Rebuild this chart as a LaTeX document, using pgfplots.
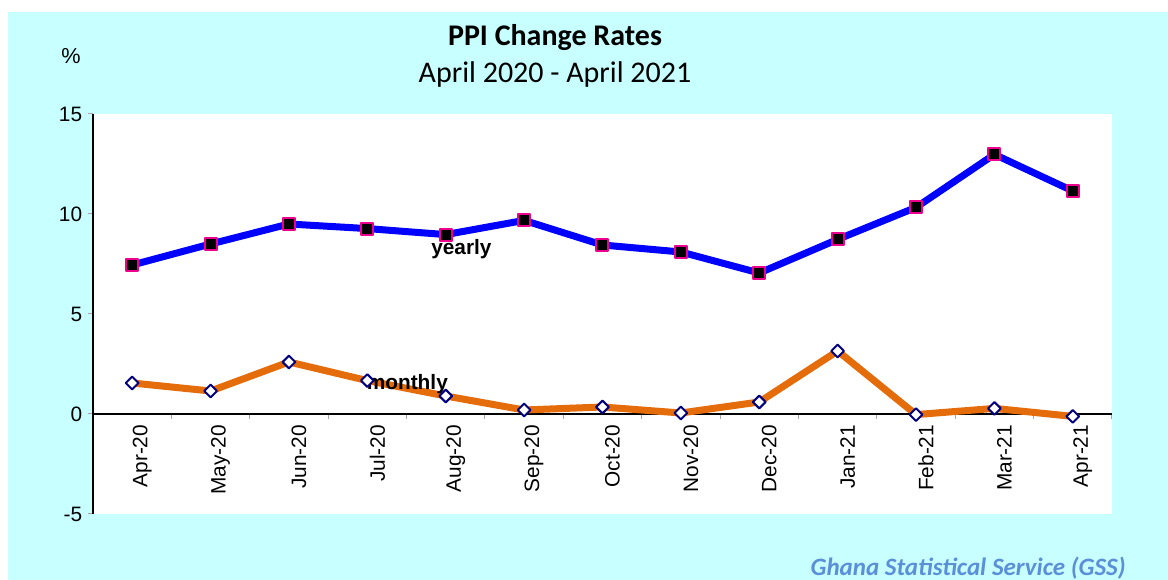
\documentclass[border=0pt]{standalone}
\usepackage{fontspec}
\setmainfont{Liberation Sans}
\newfontfamily\calibri{Carlito}
\usepackage{pgfplots}
\pgfplotsset{compat=1.18}
\definecolor{bgcyan}{HTML}{C8FFFF}
\definecolor{yblue}{HTML}{0000FF}
\definecolor{morange}{HTML}{E46C0A}
\definecolor{mnavy}{HTML}{000080}
\definecolor{gsscol}{HTML}{5B8FD8}

\begin{document}
\begin{tikzpicture}
% page frame in pixel units of the reference (1px = 0.6pt)
\begin{scope}[x=0.6pt,y=-0.6pt]
\useasboundingbox (0,0) rectangle (1168,580);
\fill[bgcyan] (8,12) rectangle (1168,580);
\fill[white] (93,114) rectangle (1112,514);
\node[font=\calibri\bfseries\fontsize{18}{20}\selectfont] at (555,38) {PPI Change Rates};
\node[font=\calibri\fontsize{18}{20}\selectfont] at (555,75) {April 2020 - April 2021};
\node[font=\fontsize{13}{15}\selectfont] at (71,56) {\%};
\node[font=\calibri\bfseries\itshape\fontsize{15}{17}\selectfont, text=gsscol, anchor=base east, inner sep=0pt] at (1126,575) {Ghana Statistical Service (GSS)};
\end{scope}

\begin{axis}[at={(55.8pt,-308.4pt)}, anchor=south west, scale only axis,
  width=611.4pt, height=240pt,
  xmin=-0.5, xmax=12.5, ymin=-5, ymax=15,
  ytick={-5,0,5,10,15},
  axis x line=middle, axis y line=left,
  axis line style={-, black, line width=0.8pt},
  tick align=outside,
  xtick={0,...,12},
  xticklabels={Apr-20,May-20,Jun-20,Jul-20,Aug-20,Sep-20,Oct-20,Nov-20,Dec-20,Jan-21,Feb-21,Mar-21,Apr-21},
  major x tick style={draw=none},
  minor xtick={-0.5,0.5,...,12.5},
  minor tick length=3pt, major tick length=3pt,
  minor x tick style={gray!70, line width=0.6pt},
  y tick style={gray!70, line width=0.6pt},
  x tick label style={rotate=90, anchor=east, font=\fontsize{12.5}{14}\selectfont, yshift=-6pt},
  y tick label style={font=\fontsize{12.5}{14}\selectfont},
  /pgf/number format/assume math mode=true,
  clip=false]
\addplot[yblue, line width=4.2pt, line join=round, mark=square*, mark size=3.6pt,
  mark options={fill=black, draw=magenta, line width=1.2pt}] coordinates {
  (0,7.45) (1,8.5) (2,9.5) (3,9.27) (4,8.97) (5,9.68) (6,8.45) (7,8.1) (8,7.05) (9,8.73) (10,10.33) (11,12.98) (12,11.15)};
\addplot[morange, line width=4.2pt, line join=round, mark=square*, mark size=2.7pt,
  mark options={rotate=45, fill=white, draw=mnavy, line width=1.2pt}] coordinates {
  (0,1.55) (1,1.15) (2,2.6) (3,1.67) (4,0.9) (5,0.2) (6,0.35) (7,0.05) (8,0.6) (9,3.15) (10,-0.03) (11,0.28) (12,-0.12)};
\node[font=\bfseries\fontsize{12.5}{14}\selectfont] at (axis cs:4.2,8.25) {yearly};
\node[font=\bfseries\fontsize{12.5}{14}\selectfont] at (axis cs:3.51,1.5) {monthly};
\end{axis}
\end{tikzpicture}
\end{document}
